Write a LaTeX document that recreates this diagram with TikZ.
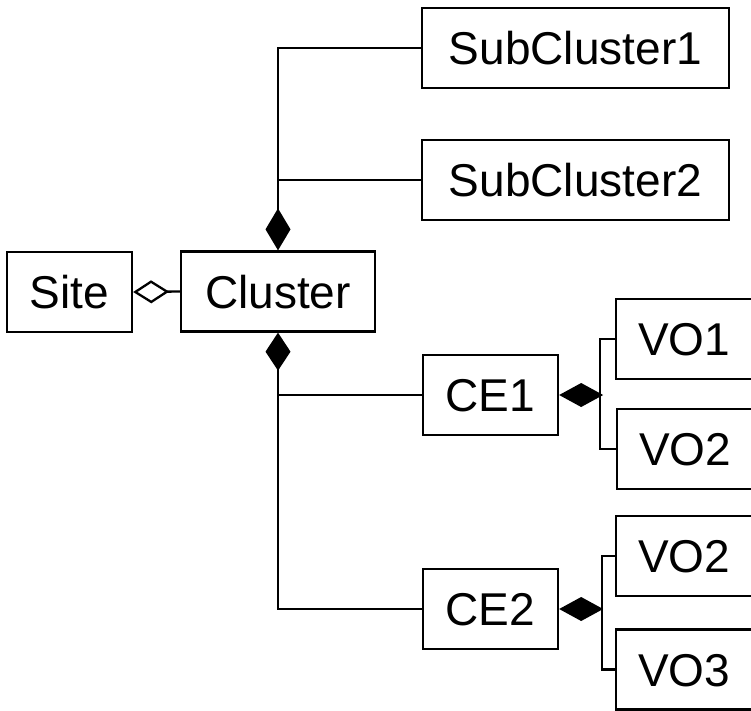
\documentclass[tikz,border=0pt]{standalone}
\usepackage{fontspec}
\setmainfont{Liberation Sans}
\usetikzlibrary{arrows.meta}
\begin{document}
\begin{tikzpicture}[x=1pt,y=-1pt, line width=2.3pt,
  box/.style={draw, rectangle, inner sep=0pt, minimum height=80pt,
    font=\fontsize{46}{50}\selectfont, text height=33pt, text depth=0pt},
  openbox/.style={draw, rectangle, anchor=west, inner ysep=0pt, inner xsep=22pt,
    minimum height=80pt, text width=140pt, align=left,
    font=\fontsize{46}{50}\selectfont, text height=33pt, text depth=0pt},
  comp/.style={-{Diamond[length=42pt,width=25pt,fill=black]}},
  compb/.style={-{Diamond[length=38pt,width=25pt,fill=black]}},
  compc/.style={-{Diamond[length=44pt,width=24pt,fill=black]}},
  agg/.style={-{Diamond[length=36pt,width=23pt,open,fill=white]}}]
\useasboundingbox (0,0) rectangle (751,710);
\clip (0,0) rectangle (751,710);
\node[box, minimum width=125pt] (site) at (69.5,292) {Site};
\node[box, minimum width=194pt] (cluster) at (278,291.5) {Cluster};
\node[box, minimum width=307pt] (sub1) at (575.5,48) {SubCluster1};
\node[box, minimum width=307pt] (sub2) at (575.5,180) {SubCluster2};
\node[box, minimum width=135pt] (ce1) at (490.5,395) {CE1};
\node[box, minimum width=135pt] (ce2) at (490.5,609) {CE2};
\node[openbox] (vo1) at (615,339) {VO1};
\node[openbox] (vo2) at (616,449) {VO2};
\node[openbox] (vo2b) at (615,556) {VO2};
\node[openbox] (vo3) at (615,669.5) {VO3};
\coordinate (j1) at (600,395);
\coordinate (j2) at (602,609);
\draw[comp] (sub1.west) -| (cluster.north);
\draw (sub2.west) -- (sub2.west -| cluster.north);
\draw[compb] (ce2.west) -| (cluster.south);
\draw (ce1.west) -- (ce1.west -| cluster.south);
\draw[agg] (cluster.west) -- (site.east);
\draw[compc] (vo1.west) -| (j1) -- (ce1.east);
\draw (vo2.west) -| (j1);
\draw[compc] (vo2b.west) -| (j2) -- (ce2.east);
\draw (vo3.west) -| (j2);
\end{tikzpicture}
\end{document}
